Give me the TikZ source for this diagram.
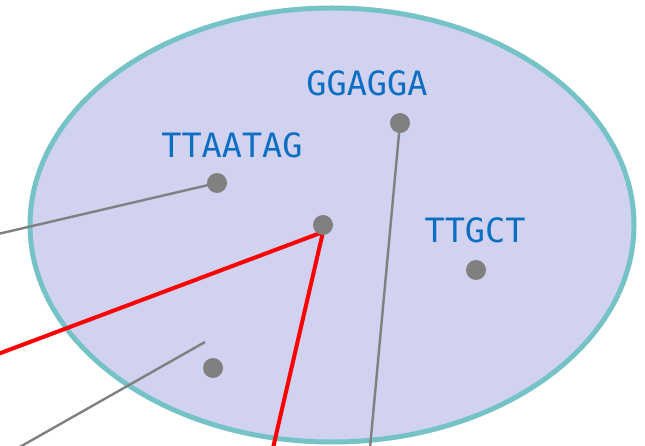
\documentclass[tikz,border=0pt]{standalone}
\usepackage{fontspec}
\setmonofont{DejaVu Sans Mono}
\definecolor{cellfill}{HTML}{D1D1F0}
\definecolor{cellrim}{HTML}{76C3C7}
\definecolor{motifblue}{HTML}{0A6FC2}
\tikzset{
  site/.style={circle, fill=gray, inner sep=0pt, minimum size=20pt},
  motif/.style={text=motifblue, font=\ttfamily\fontsize{33.5}{33.5}\selectfont, anchor=base, inner sep=0pt},
  link/.style={gray, line width=2.4pt},
  hit/.style={red, line width=4pt}
}
\begin{document}
\begin{tikzpicture}[x=1pt, y=-1pt]

    \useasboundingbox (0, 0) rectangle (645, 446);
    \clip (0, 0) rectangle (645, 446);

    % the cell
    \draw[cellrim, fill=cellfill, line width=5pt] (332, 225) ellipse (302 and 217);

    % motif labels
    \node[motif] (ggagga) at (367, 96) {GGAGGA};
    \node[motif] (ttaatag) at (232, 158) {TTAATAG};
    \node[motif] (ttgct) at (475, 243) {TTGCT};

    % free ends of the connectors
    \coordinate (left1) at (-2, 234);
    \coordinate (left2) at (-2, 354);
    \coordinate (bottom1) at (273, 448);
    \coordinate (bottom2) at (370, 448);
    \coordinate (stubtop) at (205, 342);
    \coordinate (stubend) at (18, 448);
    \coordinate (apex) at (323, 232);

    % connectors
    \draw[link] (left1) -- (217, 183);
    \draw[link] (400, 123) -- (bottom2);
    \draw[link] (stubtop) -- (stubend);
    \draw[hit] (left2) -- (apex) -- (bottom1);

    % sites
    \node[site] (s1) at (400, 123) {};
    \node[site] (s2) at (217, 183) {};
    \node[site] (s3) at (323, 225) {};
    \node[site] (s4) at (476, 270) {};
    \node[site] (s5) at (213, 368) {};

\end{tikzpicture}
\end{document}
